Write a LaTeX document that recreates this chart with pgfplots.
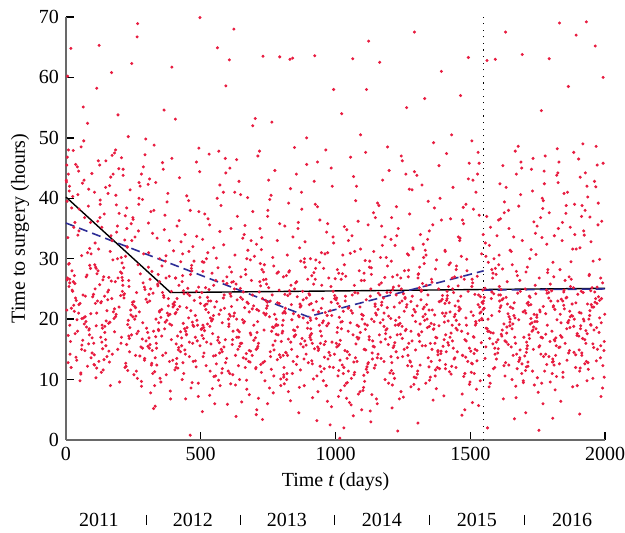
\documentclass[border=0pt]{standalone}
\usepackage{fontspec}
\setmainfont{Liberation Serif}
\usepackage{pgfplots}
\pgfplotsset{compat=1.18}
\definecolor{dotred}{RGB}{232,28,64}
\definecolor{dashblue}{RGB}{45,45,150}
\definecolor{axgray}{RGB}{105,105,105}
\begin{document}
\begin{tikzpicture}
\begin{axis}[
  scale only axis, width=269.5pt, height=211.5pt,
  xmin=0, xmax=2000, ymin=0, ymax=70,
  axis lines*=left,
  axis line style={axgray, line width=0.8pt},
  tick align=inside, major tick length=4pt,
  tick style={black, line width=0.7pt},
  xtick={0,500,1000,1500,2000}, ytick={0,10,...,70},
  /pgf/number format/assume math mode=true,
  /pgf/number format/1000 sep={},
  xlabel={Time \textit{t} (days)}, ylabel={Time to surgery (hours)},
  xlabel style={yshift=1pt}, ylabel style={yshift=-2pt},
  clip=false,
  dots/.style={color=dotred, only marks, mark=*, mark size=0.55pt, mark options={draw=none, fill=dotred}},
]
\addplot[dots] coordinates {
(47,44.5)(12,41.2)(83,38.7)(5,46.8)(66,49.5)(29,35.2)(91,28.4)(38,23.1)(74,19.6)(20,21.8)(58,30.5)(2,42.7)(87,17.4)(33,25.9)(69,36.8)(15,14.2)(52,22.6)(96,44.1)(41,19.9)(8,12.8)(78,27.3)(25,40.3)(62,16.5)(44,33.9)(99,23.7)(18,64.8)(55,10.9)(71,20.4)(36,45.6)(10,29.1)(85,18.2)(49,38.2)(23,24.8)(93,13.6)(64,55.1)(31,21.3)(6,60.2)(80,52.4)(27,47.9)(59,15.7)(14,26.6)(88,31.7)(1,43.0)(3,45.5)(4,39.5)(9,48.0)(13,42.0)
(147,41.8)(112,18.9)(183,26.2)(105,14.1)(166,43.5)(129,22.7)(191,35.4)(138,11.6)(174,29.8)(120,46.2)(158,19.3)(102,24.1)(187,38.9)(133,16.2)(169,60.8)(115,27.5)(152,21.4)(196,44.9)(141,13.3)(108,32.6)(178,20.1)(125,25.7)(162,42.1)(144,17.8)(199,9.6)(118,36.2)(155,23.2)(171,47.1)(136,15.1)(110,28.6)(185,40.5)(149,19.7)(123,65.3)(193,53.8)(164,31.2)(131,22.9)(106,12.4)(180,47.5)(127,39.7)(159,26.9)(114,58.2)
(247,22.4)(212,43.8)(283,16.7)(205,30.2)(266,68.9)(229,19.1)(291,25.3)(238,41.4)(274,13.9)(220,37.1)(258,21.9)(202,27.8)(287,45.2)(233,17.2)(269,34.6)(215,23.5)(252,10.8)(296,49.8)(241,20.7)(208,29.3)(278,15.4)(225,38.4)(262,24.4)(244,62.3)(299,18.5)(218,33.1)(255,22.1)(271,42.6)(236,14.6)(210,26.4)(285,19.4)(249,36.5)(223,12.2)(293,24.9)(264,66.7)(231,50.2)(206,46.7)(280,8.9)(227,31.9)
(347,21.2)(312,15.8)(383,27.1)(305,42.3)(366,18.4)(329,11.3)(391,24.6)(338,33.4)(374,19.8)(320,14.8)(358,45.9)(302,22.8)(387,8.1)(333,17.1)(369,29.6)(315,37.8)(352,20.3)(396,13.2)(341,25.5)(308,16.9)(378,40.8)(325,5.2)(362,23.9)(344,18.1)(399,31.3)(318,12.7)(355,21.6)(371,26.8)(336,15.2)(310,43.2)(385,19.2)(349,10.2)(323,24.3)(393,61.7)(364,54.6)(331,5.6)(306,35.9)(380,22.2)
(447,17.5)(412,23.4)(483,12.1)(405,20.9)(466,28.9)(429,15.6)(491,9.4)(438,24.2)(474,18.8)(420,36.3)(458,13.8)(402,22.3)(487,16.4)(433,30.8)(469,19.5)(415,11.9)(452,25.1)(496,44.4)(441,14.9)(408,21.1)(461,0.8)(425,17.9)(462,27.4)(444,6.8)(499,22.6)(418,15.3)(455,39.6)(471,19.0)(436,24.7)(410,12.6)(485,33.7)(449,18.6)(497,69.9)(493,48.3)(464,8.6)(431,26.2)(406,53.1)(480,13.1)
(547,20.6)(512,14.4)(583,26.3)(505,17.3)(566,9.9)(529,23.0)(591,46.6)(538,15.9)(574,21.5)(520,12.3)(558,30.1)(502,18.3)(587,24.0)(533,7.4)(569,16.1)(515,37.4)(552,22.0)(596,13.5)(541,19.8)(508,27.9)(578,11.1)(525,23.6)(562,64.9)(544,17.6)(599,5.9)(518,25.2)(555,14.0)(571,42.2)(536,20.2)(510,16.8)(585,32.3)(549,10.5)(523,22.5)(593,58.6)(564,28.5)(531,47.3)(506,4.7)(580,19.4)
(647,16.0)(612,23.8)(683,12.9)(605,19.2)(666,28.2)(629,9.1)(691,21.7)(638,15.0)(674,40.1)(620,18.0)(658,24.5)(602,11.4)(687,33.0)(633,20.0)(669,14.3)(615,26.1)(652,6.3)(696,22.2)(641,17.0)(608,45.0)(678,13.0)(625,25.0)(662,19.6)(644,10.0)(699,30.4)(618,16.6)(655,23.3)(671,8.4)(636,37.0)(610,20.5)(685,14.7)(649,27.0)(623,68.0)(693,52.0)(664,35.5)(631,3.9)(606,62.9)(680,21.2)
(747,22.8)(712,15.5)(783,27.6)(705,12.0)(766,18.7)(729,3.4)(791,24.8)(738,9.8)(774,20.8)(720,35.0)(758,14.6)(702,53.2)(787,17.4)(733,26.5)(769,7.8)(715,21.4)(752,43.0)(796,13.7)(741,23.1)(708,5.0)(778,18.9)(725,31.5)(762,11.7)(744,25.8)(799,16.3)(718,47.8)(755,20.4)(771,10.6)(736,29.0)(710,15.2)(785,22.7)(749,38.0)(723,12.5)(793,63.4)(764,52.6)(731,63.5)(706,4.2)(780,19.1)
(847,17.2)(812,24.1)(883,13.4)(805,21.0)(866,8.7)(829,28.0)(891,15.7)(838,19.9)(874,41.0)(820,11.0)(858,23.7)(802,17.7)(887,32.8)(833,6.5)(869,22.0)(815,14.5)(852,26.0)(896,18.5)(841,63.2)(808,10.4)(878,24.6)(825,16.7)(862,36.0)(844,20.9)(899,12.8)(818,27.2)(855,44.0)(871,15.9)(836,22.4)(810,9.3)(885,30.0)(849,18.1)(823,23.9)(893,50.0)(864,4.5)(831,63.0)(806,14.0)(880,20.2)
(947,21.8)(912,13.1)(983,25.4)(905,17.0)(966,9.0)(929,22.9)(991,33.6)(938,15.1)(974,19.3)(920,27.7)(958,11.8)(902,24.2)(987,16.2)(933,46.0)(969,20.6)(915,7.0)(952,23.4)(996,14.2)(941,29.4)(908,18.4)(978,12.1)(925,39.0)(962,21.1)(944,16.0)(999,26.7)(918,10.1)(955,19.7)(971,31.0)(936,14.8)(910,22.6)(985,5.5)(949,25.6)(923,63.6)(993,58.0)(964,48.0)(931,3.2)(906,17.3)(980,2.5)
(1047,18.0)(1012,11.5)(1083,24.3)(1005,15.4)(1016,0.3)(1029,21.3)(1091,8.0)(1038,27.1)(1074,13.6)(1020,19.5)(1058,5.8)(1002,23.2)(1087,16.9)(1033,35.3)(1069,10.8)(1015,22.1)(1052,14.1)(1096,26.4)(1041,6.9)(1008,18.6)(1078,42.0)(1025,12.4)(1062,24.0)(1044,9.5)(1099,20.0)(1018,16.5)(1055,30.9)(1071,11.2)(1036,23.0)(1010,15.6)(1085,7.6)(1049,21.9)(1023,54.0)(1093,50.5)(1064,63.1)(1031,2.0)(1066,4.0)(1080,19.0)
(1147,22.5)(1112,14.9)(1183,26.9)(1105,10.7)(1166,19.4)(1129,4.8)(1191,24.4)(1138,16.4)(1174,32.2)(1120,12.6)(1158,21.6)(1102,8.2)(1187,18.2)(1133,28.5)(1169,13.5)(1115,58.0)(1152,20.7)(1196,15.8)(1141,37.6)(1108,9.7)(1178,23.5)(1125,17.1)(1162,25.7)(1144,11.9)(1199,44.6)(1118,19.0)(1155,6.0)(1171,22.3)(1136,14.4)(1110,29.7)(1185,16.7)(1149,21.0)(1123,66.0)(1193,48.5)(1164,62.5)(1131,3.0)(1106,27.6)(1180,13.0)
(1247,18.8)(1212,24.9)(1283,12.2)(1205,20.1)(1266,15.3)(1229,27.3)(1291,9.2)(1238,22.7)(1274,41.5)(1220,16.1)(1258,23.6)(1202,11.1)(1287,31.8)(1233,19.1)(1269,14.0)(1215,25.3)(1252,7.1)(1296,21.2)(1241,17.5)(1208,36.8)(1278,12.9)(1225,24.0)(1262,18.3)(1244,47.0)(1299,10.3)(1218,22.0)(1255,15.0)(1271,28.1)(1236,20.3)(1210,5.3)(1285,23.8)(1249,13.8)(1223,19.8)(1293,67.5)(1264,55.0)(1231,1.5)(1206,33.2)(1280,8.8)
(1347,21.5)(1312,16.3)(1383,25.0)(1305,11.4)(1366,19.1)(1329,29.2)(1391,14.3)(1338,22.4)(1374,8.5)(1320,17.9)(1358,26.1)(1302,43.8)(1387,13.2)(1333,20.8)(1369,16.0)(1315,34.0)(1352,10.4)(1396,23.3)(1341,18.6)(1308,27.5)(1378,12.0)(1325,21.7)(1362,6.6)(1344,39.5)(1399,15.5)(1318,24.6)(1355,19.3)(1371,11.6)(1336,30.6)(1310,17.3)(1385,22.9)(1349,9.9)(1323,25.9)(1393,61.0)(1364,49.2)(1331,56.5)(1306,2.8)(1380,14.6)
(1447,18.5)(1412,23.1)(1483,13.7)(1405,20.5)(1466,27.0)(1429,10.9)(1491,17.6)(1438,24.4)(1474,38.5)(1420,15.7)(1458,21.4)(1402,7.3)(1487,29.9)(1433,19.0)(1469,4.1)(1415,23.9)(1452,14.6)(1496,45.8)(1441,20.4)(1408,12.5)(1478,26.6)(1425,17.0)(1462,33.4)(1444,22.2)(1499,9.6)(1418,19.7)(1455,25.5)(1471,14.0)(1436,41.8)(1410,21.0)(1485,16.4)(1449,28.8)(1423,11.3)(1493,63.3)(1464,57.0)(1431,50.5)(1406,31.4)(1480,5.0)
(1547,22.6)(1512,17.1)(1583,26.8)(1505,12.7)(1566,20.0)(1529,47.6)(1591,15.2)(1538,23.7)(1574,9.4)(1520,19.6)(1558,30.4)(1502,14.7)(1587,24.2)(1533,37.2)(1569,18.0)(1515,11.0)(1552,21.8)(1596,27.4)(1541,16.1)(1508,6.2)(1578,23.4)(1525,13.1)(1562,62.8)(1544,19.9)(1599,33.8)(1518,15.0)(1555,25.1)(1571,10.6)(1536,21.0)(1510,43.0)(1585,17.7)(1549,23.0)(1523,8.4)(1593,63.0)(1564,2.0)(1531,5.7)(1506,49.5)(1580,28.2)
(1647,18.9)(1612,24.0)(1683,13.3)(1605,36.4)(1666,20.2)(1629,16.4)(1691,45.0)(1638,22.5)(1674,11.8)(1620,28.3)(1658,19.2)(1602,14.4)(1687,40.6)(1633,23.6)(1669,8.9)(1615,17.5)(1652,31.2)(1696,21.2)(1641,15.8)(1608,25.4)(1678,48.6)(1625,12.3)(1662,20.6)(1644,35.0)(1699,17.0)(1618,23.2)(1655,10.0)(1671,27.9)(1636,18.7)(1610,42.4)(1685,14.9)(1649,22.0)(1623,6.8)(1693,63.8)(1664,3.5)(1631,67.5)(1606,29.0)(1680,38.7)
(1747,20.7)(1712,15.6)(1783,24.8)(1705,11.5)(1766,33.5)(1729,19.4)(1791,23.5)(1738,9.1)(1774,44.5)(1720,16.8)(1758,21.5)(1702,13.9)(1787,27.7)(1733,18.2)(1769,38.3)(1715,22.8)(1752,7.9)(1796,16.3)(1741,25.6)(1708,12.1)(1778,47.0)(1725,20.1)(1762,14.2)(1744,30.7)(1799,23.0)(1718,17.4)(1755,1.6)(1771,22.1)(1736,36.1)(1710,15.1)(1785,24.3)(1749,10.3)(1723,19.2)(1793,63.1)(1764,54.5)(1731,41.2)(1706,4.5)(1780,20.9)
(1847,22.3)(1812,16.6)(1883,25.2)(1805,12.9)(1866,19.8)(1829,46.0)(1891,14.1)(1838,23.3)(1874,29.5)(1820,10.5)(1858,18.4)(1802,24.7)(1887,39.0)(1833,15.4)(1869,21.3)(1815,8.3)(1852,26.4)(1896,17.3)(1841,33.0)(1808,13.0)(1878,22.5)(1825,44.2)(1862,19.5)(1844,11.2)(1899,24.1)(1818,16.9)(1855,37.5)(1871,20.4)(1836,6.4)(1810,27.0)(1885,14.5)(1849,21.7)(1823,48.2)(1893,67.0)(1864,58.5)(1831,69.0)(1806,3.6)(1880,31.6)
(1947,19.1)(1912,24.6)(1983,13.6)(1905,21.1)(1966,41.9)(1929,16.0)(1991,26.0)(1938,11.7)(1974,35.6)(1920,20.0)(1958,15.3)(1902,46.5)(1987,23.4)(1933,9.8)(1969,18.6)(1915,38.8)(1952,22.0)(1996,14.8)(1941,27.2)(1908,43.5)(1978,17.8)(1925,12.6)(1962,24.5)(1944,36.9)(1999,20.8)(1918,49.0)(1955,15.9)(1971,25.3)(1936,40.2)(1910,18.9)(1985,7.2)(1949,22.4)(1923,33.9)(1993,60.0)(1964,65.2)(1931,69.2)(1906,4.3)(1980,29.9)
};
\addplot[dots] coordinates {
(63,24.0)(17,16.3)(92,20.9)(40,13.2)(4,26.5)(76,18.7)(29,22.3)(55,11.1)(11,25.4)(84,15.9)(47,21.0)(68,19.2)(22,28.0)(97,14.4)(35,23.5)(8,17.3)(59,20.1)(80,12.2)(14,26.0)(43,18.0)
(163,19.5)(117,23.0)(192,15.0)(140,27.0)(104,12.5)(176,21.2)(129,17.0)(155,24.5)(111,10.3)(184,20.4)(147,16.6)(168,26.3)(122,13.0)(197,22.0)(135,18.5)(108,25.0)(159,14.7)(180,21.7)(114,11.9)(143,23.8)(171,33.0)(126,36.8)
(263,17.6)(217,24.2)(292,13.5)(240,21.5)(204,16.0)(276,27.5)(229,11.5)(255,20.0)(211,25.6)(284,15.2)(247,22.8)(268,18.0)(222,12.7)(297,23.3)(235,16.8)(208,26.9)(259,20.5)(280,9.7)(214,24.0)(243,17.4)(271,40.0)(226,35.0)
(363,23.6)(317,12.4)(392,19.0)(340,25.8)(304,15.5)(376,21.0)(329,9.0)(355,17.2)(311,23.0)(384,13.0)(347,26.2)(368,19.5)(322,11.0)(397,22.5)(335,16.0)(308,24.1)(359,14.0)(380,20.6)(314,7.8)(343,18.3)(371,30.5)(326,38.0)
(463,21.4)(417,14.9)(492,25.3)(440,18.4)(404,11.6)(476,23.1)(429,16.9)(455,20.2)(411,13.5)(484,24.6)(447,17.4)(468,9.5)(422,22.1)(497,15.6)(435,19.3)(408,12.0)(459,23.9)(480,17.0)(414,21.6)(443,14.2)(471,32.0)(426,29.5)
(563,16.5)(517,22.4)(592,12.8)(540,19.7)(504,24.4)(576,15.0)(529,21.1)(555,10.6)(511,18.6)(584,23.5)(547,13.9)(568,20.8)(522,16.2)(597,25.9)(535,11.4)(508,19.0)(559,22.9)(580,14.6)(514,18.1)(543,8.5)(571,34.5)(526,31.0)
(663,21.9)(617,15.8)(692,24.0)(640,12.3)(604,18.8)(676,22.6)(629,14.0)(655,19.9)(611,9.3)(684,17.7)(647,25.1)(668,13.4)(622,20.5)(697,16.5)(635,23.2)(608,11.0)(659,19.4)(680,14.8)(614,22.1)(643,17.9)(671,30.0)(626,41.0)
(763,18.0)(717,24.5)(792,14.1)(740,20.7)(704,11.8)(776,16.4)(729,23.4)(755,8.6)(711,19.6)(784,13.3)(747,22.2)(768,15.7)(722,25.5)(797,10.1)(735,18.2)(708,21.6)(759,13.8)(780,17.5)(714,6.9)(743,20.9)(771,28.8)(726,33.5)
(863,20.6)(817,14.4)(892,23.5)(840,11.0)(804,18.0)(876,16.8)(829,24.7)(855,12.5)(811,21.3)(884,9.0)(847,17.1)(868,22.5)(822,14.0)(897,19.4)(835,25.6)(808,10.8)(859,18.7)(880,15.4)(814,21.0)(843,13.0)(871,29.6)(826,39.2)
(963,16.3)(917,21.5)(992,12.0)(940,19.0)(904,24.0)(976,14.5)(929,20.1)(955,9.8)(911,17.6)(984,22.8)(947,11.3)(968,18.9)(922,15.1)(997,23.9)(935,8.0)(908,19.8)(959,13.7)(980,21.4)(914,16.0)(943,12.2)(971,35.8)(926,28.4)
(1063,21.0)(1017,13.2)(1092,17.8)(1040,9.4)(1004,23.5)(1076,15.9)(1029,11.0)(1055,19.4)(1011,7.2)(1084,16.7)(1047,21.8)(1068,12.9)(1022,18.4)(1097,5.0)(1035,14.8)(1008,22.6)(1059,10.2)(1080,17.0)(1014,20.3)(1043,13.5)(1071,31.2)(1026,27.5)
(1163,17.4)(1117,12.1)(1192,21.9)(1140,15.5)(1104,8.7)(1176,19.9)(1129,23.8)(1155,13.6)(1111,18.3)(1184,10.0)(1147,22.1)(1168,16.2)(1122,12.8)(1197,20.5)(1135,7.5)(1108,15.0)(1159,24.3)(1180,18.8)(1114,11.7)(1143,19.6)(1171,35.4)(1126,28.6)
(1263,22.0)(1217,15.6)(1292,10.4)(1240,19.3)(1204,24.4)(1276,13.1)(1229,17.4)(1255,21.3)(1211,9.1)(1284,16.4)(1247,23.0)(1268,12.3)(1222,19.0)(1297,14.9)(1235,25.5)(1208,11.5)(1259,18.1)(1280,22.9)(1214,15.3)(1243,8.0)(1271,30.6)(1226,38.6)
(1363,18.3)(1317,23.2)(1392,14.7)(1340,20.0)(1304,10.9)(1376,16.9)(1329,22.0)(1355,13.0)(1311,25.2)(1384,18.9)(1347,12.1)(1368,20.7)(1322,15.6)(1397,23.9)(1335,9.4)(1308,17.5)(1359,21.5)(1380,14.1)(1314,19.2)(1343,24.0)(1371,28.3)(1326,32.4)
(1463,21.7)(1417,16.1)(1492,24.6)(1440,13.4)(1404,19.5)(1476,10.5)(1429,17.7)(1455,23.0)(1411,14.6)(1484,20.2)(1447,12.0)(1468,18.0)(1422,22.7)(1497,15.2)(1435,25.0)(1408,11.8)(1459,19.1)(1480,16.6)(1414,23.4)(1443,13.6)(1471,36.4)(1426,29.3)
(1563,18.4)(1517,24.1)(1592,14.2)(1540,21.2)(1504,11.2)(1576,17.8)(1529,22.4)(1555,13.5)(1511,20.6)(1584,15.9)(1547,24.8)(1568,10.7)(1522,19.3)(1597,16.2)(1535,22.0)(1508,12.6)(1559,18.5)(1580,24.5)(1514,14.3)(1543,20.1)(1571,32.2)(1526,27.1)
(1663,22.7)(1617,17.2)(1692,12.6)(1640,20.9)(1604,15.1)(1676,24.3)(1629,10.6)(1655,18.4)(1611,21.9)(1684,13.6)(1647,19.5)(1668,16.0)(1622,23.4)(1697,9.5)(1635,17.7)(1608,21.3)(1659,14.0)(1680,19.9)(1614,24.9)(1643,12.4)(1671,44.0)(1626,37.6)
(1763,17.0)(1717,22.3)(1792,13.8)(1740,19.6)(1704,25.0)(1776,11.4)(1729,18.0)(1755,15.4)(1711,22.6)(1784,12.5)(1747,20.3)(1768,16.9)(1722,23.6)(1797,9.6)(1735,18.7)(1708,14.5)(1759,21.2)(1780,17.5)(1714,12.9)(1743,24.2)(1771,39.6)(1726,31.5)
(1863,19.4)(1817,14.0)(1892,22.7)(1840,17.0)(1804,11.0)(1876,20.6)(1829,15.3)(1855,23.5)(1811,12.4)(1884,18.8)(1847,24.5)(1868,14.8)(1822,19.9)(1897,9.0)(1835,17.3)(1808,22.0)(1859,13.2)(1880,20.5)(1814,16.4)(1843,23.0)(1871,35.2)(1826,42.6)
(1963,22.8)(1917,16.8)(1992,12.3)(1940,20.0)(1904,14.9)(1976,23.7)(1929,18.1)(1955,10.2)(1911,21.0)(1984,15.6)(1947,24.7)(1968,13.1)(1922,19.7)(1997,16.3)(1935,22.5)(1908,11.9)(1959,18.2)(1980,23.1)(1914,14.4)(1943,20.6)(1971,45.5)(1926,38.0)
};
\addplot[dots] coordinates {
(3,21.5)(58,15.0)(31,27.2)(86,18.4)(19,12.0)(72,23.8)(44,40.6)(97,16.9)(9,44.0)(65,20.2)(37,13.7)(80,31.0)(25,24.6)(52,9.8)(14,19.0)(91,36.0)(48,22.4)(70,14.8)(6,26.8)(34,17.6)(61,42.5)(88,28.9)
(103,16.0)(158,24.8)(131,11.2)(186,20.8)(119,28.0)(172,14.2)(144,18.8)(197,37.5)(109,22.6)(165,9.0)(137,26.5)(180,17.9)(125,45.5)(152,13.8)(114,21.0)(191,30.0)(148,15.6)(170,23.4)(106,41.0)(134,19.0)(161,12.9)(188,34.4)
(203,23.9)(258,14.0)(231,19.8)(286,26.0)(219,12.0)(272,21.2)(244,33.0)(297,16.4)(209,24.6)(265,10.2)(237,18.6)(280,44.0)(225,15.8)(252,22.9)(214,28.5)(291,13.2)(248,20.4)(270,39.0)(206,17.0)(234,25.4)(261,11.4)(288,30.8)
(303,17.8)(358,24.4)(331,13.6)(386,20.8)(319,27.9)(372,10.8)(344,19.4)(397,22.0)(309,15.2)(365,34.8)(337,12.4)(380,23.4)(325,18.0)(352,9.6)(314,25.0)(391,16.6)(348,21.4)(370,14.4)(306,28.6)(334,20.0)(361,44.8)(388,6.8)
(403,22.8)(458,16.2)(431,10.0)(486,19.8)(419,25.6)(472,13.0)(444,18.0)(497,23.6)(409,15.9)(465,28.4)(437,11.0)(480,20.6)(425,14.6)(452,24.2)(414,17.2)(491,7.2)(448,21.9)(470,16.0)(406,26.8)(434,12.8)(461,38.0)(488,19.0)
(503,18.4)(558,12.6)(531,24.9)(586,15.4)(519,21.6)(572,9.0)(544,20.0)(597,27.0)(509,13.8)(565,17.0)(537,23.0)(580,11.8)(525,19.2)(552,6.0)(514,22.2)(591,16.6)(548,25.6)(570,14.4)(506,29.5)(534,18.8)(561,40.0)(588,21.8)
(603,20.0)(658,13.6)(631,25.8)(686,17.4)(619,10.8)(672,22.8)(644,15.5)(697,19.0)(609,24.2)(665,12.0)(637,18.2)(680,7.5)(625,21.0)(652,16.0)(614,27.8)(691,14.0)(648,23.6)(670,9.9)(606,20.8)(634,17.0)(661,34.0)(688,26.4)
(703,16.9)(758,23.0)(731,12.8)(786,19.0)(719,26.2)(772,14.9)(744,21.8)(797,9.0)(709,17.8)(765,24.0)(737,13.0)(780,20.0)(725,11.2)(752,25.2)(714,16.0)(791,22.6)(748,6.0)(770,18.6)(706,15.0)(734,21.0)(761,40.5)(788,27.8)
(803,19.0)(858,13.8)(831,24.2)(886,16.4)(819,10.0)(872,22.2)(844,18.2)(897,26.6)(809,12.0)(865,20.4)(837,15.0)(880,23.2)(825,8.0)(852,17.4)(814,21.8)(891,14.2)(848,25.0)(870,11.6)(806,19.8)(834,16.2)(861,35.0)(888,28.6)
(903,22.4)(958,15.8)(931,10.6)(986,20.6)(919,25.8)(972,13.4)(944,18.0)(997,23.4)(909,16.6)(965,9.0)(937,21.2)(980,14.0)(925,26.6)(952,19.4)(914,12.6)(991,24.6)(948,17.2)(970,6.4)(906,20.2)(934,15.4)(961,30.8)(988,42.0)
(1003,16.0)(1058,21.4)(1031,12.0)(1086,18.8)(1019,8.2)(1072,24.4)(1044,14.6)(1097,20.8)(1009,10.6)(1065,17.4)(1037,23.8)(1080,13.0)(1025,19.6)(1052,6.2)(1014,15.8)(1091,22.0)(1048,11.4)(1070,25.6)(1006,17.8)(1034,9.0)(1061,33.8)(1088,28.0)
(1103,20.6)(1158,14.2)(1131,25.0)(1186,17.6)(1119,11.2)(1172,22.8)(1144,15.4)(1197,9.4)(1109,19.2)(1165,24.0)(1137,13.4)(1180,21.0)(1125,16.6)(1152,6.8)(1114,23.2)(1191,18.4)(1148,12.4)(1170,26.0)(1106,15.0)(1134,20.0)(1161,38.8)(1188,30.2)
(1203,17.0)(1258,23.4)(1231,13.6)(1286,20.6)(1219,10.2)(1272,16.0)(1244,25.0)(1297,19.6)(1209,12.8)(1265,22.4)(1237,6.8)(1280,18.0)(1225,14.6)(1252,24.2)(1214,11.0)(1291,21.6)(1248,16.8)(1270,27.0)(1206,13.8)(1234,19.0)(1261,44.0)(1288,31.6)
(1303,22.2)(1358,15.0)(1331,19.8)(1386,11.8)(1319,24.8)(1372,17.0)(1344,13.6)(1397,21.0)(1309,8.4)(1365,18.4)(1337,25.6)(1380,14.8)(1325,20.4)(1352,16.0)(1314,12.4)(1391,23.0)(1348,18.8)(1370,10.6)(1306,26.8)(1334,15.6)(1361,35.6)(1388,40.0)
(1403,16.6)(1458,22.0)(1431,12.2)(1486,19.0)(1419,25.4)(1472,14.0)(1444,20.8)(1497,9.2)(1409,17.4)(1465,23.8)(1437,15.2)(1480,11.0)(1425,21.2)(1452,18.2)(1414,24.6)(1491,13.0)(1448,19.8)(1470,7.6)(1406,22.6)(1434,16.4)(1461,33.0)(1488,28.0)
(1503,21.2)(1558,15.4)(1531,24.0)(1586,11.8)(1519,19.0)(1572,16.8)(1544,22.8)(1597,13.4)(1509,26.0)(1565,18.0)(1537,9.8)(1580,20.6)(1525,14.8)(1552,23.6)(1514,17.0)(1591,12.0)(1548,21.6)(1570,8.8)(1506,25.4)(1534,19.8)(1561,37.0)(1588,30.0)
(1603,16.6)(1658,21.8)(1631,12.8)(1686,24.6)(1619,18.2)(1672,14.2)(1644,20.4)(1697,9.8)(1609,23.0)(1665,17.0)(1637,26.2)(1680,13.0)(1625,19.2)(1652,15.4)(1614,22.2)(1691,11.0)(1648,20.0)(1670,7.0)(1606,24.0)(1634,16.2)(1661,33.6)(1688,46.0)
(1703,21.4)(1758,15.6)(1731,11.4)(1786,19.0)(1719,23.8)(1772,13.8)(1744,18.4)(1797,25.8)(1709,16.2)(1765,9.4)(1737,20.8)(1780,14.2)(1725,22.4)(1752,17.8)(1714,12.2)(1791,24.4)(1748,19.6)(1770,6.0)(1706,21.0)(1734,15.0)(1761,36.8)(1788,28.2)
(1803,18.0)(1858,23.6)(1831,12.6)(1886,20.0)(1819,15.6)(1872,25.4)(1844,10.4)(1897,17.6)(1809,22.2)(1865,14.4)(1837,19.4)(1880,8.8)(1825,23.0)(1852,16.0)(1814,21.6)(1891,12.0)(1848,24.8)(1870,18.6)(1806,13.4)(1834,20.8)(1861,41.0)(1888,34.0)
(1903,17.2)(1958,22.0)(1931,13.0)(1986,19.4)(1919,24.4)(1972,15.0)(1944,21.4)(1997,10.4)(1909,18.4)(1965,23.4)(1937,12.8)(1980,20.2)(1925,16.6)(1952,25.2)(1914,14.0)(1991,8.6)(1948,19.0)(1970,22.6)(1906,11.4)(1934,17.6)(1961,42.8)(1988,36.2)
};
\addplot[dots] coordinates {
(7,33.5)(42,45.2)(75,27.0)(21,38.4)(93,30.8)(56,48.5)(33,36.0)(84,41.5)(12,29.2)(67,43.0)(48,34.6)(27,26.2)
(107,29.0)(142,37.4)(175,44.0)(121,31.6)(193,26.8)(156,40.8)(133,35.2)(184,48.0)(112,28.4)(167,33.8)(148,46.2)(127,39.0)
(207,27.6)(242,35.8)(275,42.0)(221,30.4)(293,47.2)(256,33.6)(233,26.4)(284,39.8)(212,44.8)(267,29.0)(248,36.8)(227,32.0)
(307,31.0)(342,27.4)(375,39.4)(321,34.2)(393,46.6)(356,28.8)(333,42.6)(384,33.0)(312,26.6)(367,37.2)(348,30.0)(327,48.8)
(407,26.8)(442,34.0)(475,29.6)(421,43.4)(493,37.8)(456,31.2)(433,27.2)(484,46.0)(412,35.4)(467,28.0)(448,40.4)(427,32.8)
(507,33.2)(542,27.6)(575,38.8)(521,30.0)(593,44.2)(556,26.4)(533,35.6)(584,41.0)(512,29.4)(567,47.8)(548,31.8)(527,36.6)
(607,28.6)(642,42.8)(675,31.4)(621,26.2)(693,37.8)(656,33.4)(633,46.4)(684,29.8)(612,35.0)(667,27.4)(648,40.6)(627,30.6)
(707,32.4)(742,26.6)(775,44.6)(721,29.2)(793,35.8)(756,39.8)(733,27.8)(784,33.0)(712,47.0)(767,30.2)(748,37.0)(727,28.2)
(807,27.0)(842,33.6)(875,38.2)(821,30.6)(893,45.6)(856,26.2)(833,41.6)(884,29.4)(812,35.4)(867,31.8)(848,48.4)(827,27.8)
(907,30.0)(942,36.4)(975,26.8)(921,42.8)(993,32.6)(956,28.4)(933,38.6)(984,45.0)(912,27.2)(967,34.4)(948,31.0)(927,29.8)
(1007,28.2)(1042,34.8)(1075,39.6)(1021,26.6)(1093,31.6)(1056,46.8)(1033,29.0)(1084,36.2)(1012,27.6)(1067,43.6)(1048,33.0)(1027,30.6)
(1107,26.4)(1142,31.2)(1175,43.0)(1121,35.6)(1193,28.8)(1156,39.2)(1133,27.4)(1184,33.6)(1112,47.6)(1167,30.2)(1148,36.8)(1127,29.6)
(1207,29.6)(1242,26.8)(1275,37.4)(1221,32.2)(1293,44.4)(1256,28.0)(1233,35.0)(1284,41.4)(1212,27.0)(1267,30.8)(1248,46.2)(1227,33.8)
(1307,27.4)(1342,33.2)(1375,29.8)(1321,42.2)(1393,36.4)(1356,26.6)(1333,31.4)(1384,45.4)(1312,28.6)(1367,38.4)(1348,34.6)(1327,30.2)
(1407,31.2)(1442,27.0)(1475,35.8)(1421,29.0)(1493,43.2)(1456,33.6)(1433,26.8)(1484,39.0)(1412,47.4)(1467,30.4)(1448,28.2)(1427,36.6)
(1507,26.6)(1542,30.8)(1575,35.2)(1521,41.0)(1593,28.4)(1556,32.6)(1533,45.8)(1584,27.6)(1512,38.2)(1567,29.4)(1548,34.0)(1527,44.0)
(1607,30.6)(1642,38.0)(1675,27.2)(1621,45.4)(1693,33.0)(1656,29.0)(1633,41.8)(1684,26.4)(1612,36.6)(1667,47.8)(1648,31.4)(1627,39.4)
(1707,27.8)(1742,34.2)(1775,42.4)(1721,30.0)(1793,37.6)(1756,26.8)(1733,46.6)(1784,32.4)(1712,28.6)(1767,40.0)(1748,35.4)(1727,44.8)
(1807,29.4)(1842,36.0)(1875,26.6)(1821,43.8)(1893,31.6)(1856,38.8)(1833,28.2)(1884,47.6)(1812,33.8)(1867,27.0)(1848,40.8)(1827,35.0)
(1907,31.8)(1942,27.4)(1975,39.2)(1921,34.6)(1993,45.8)(1956,29.6)(1933,42.0)(1984,26.8)(1913,37.0)(1967,48.6)(1948,32.8)(1927,44.2)
};
\addplot[black, line width=0.7pt] coordinates {(0,40.2) (388,24.4) (2000,25.1)};
\addplot[dashblue, line width=0.8pt, dash pattern=on 4.5pt off 2.5pt] coordinates {(0,35.9) (898,20.4) (1550,28.0)};
\addplot[dashblue, line width=0.8pt, dash pattern=on 4.5pt off 2.5pt] coordinates {(1550,24.8) (2000,25.0)};
\addplot[black, line width=0.6pt, dash pattern=on 0.6pt off 2.7pt] coordinates {(1550,0) (1550,70)};
\node at (axis cs:122,0) [yshift=-40pt] {2011};
\node at (axis cs:471,0) [yshift=-40pt] {2012};
\node at (axis cs:820,0) [yshift=-40pt] {2013};
\node at (axis cs:1172,0) [yshift=-40pt] {2014};
\node at (axis cs:1525,0) [yshift=-40pt] {2015};
\node at (axis cs:1878,0) [yshift=-40pt] {2016};
\draw[black, line width=0.5pt] (axis cs:297,0) ++(0,-37.5pt) -- ++(0,-5pt);
\draw[black, line width=0.5pt] (axis cs:648,0) ++(0,-37.5pt) -- ++(0,-5pt);
\draw[black, line width=0.5pt] (axis cs:997,0) ++(0,-37.5pt) -- ++(0,-5pt);
\draw[black, line width=0.5pt] (axis cs:1347,0) ++(0,-37.5pt) -- ++(0,-5pt);
\draw[black, line width=0.5pt] (axis cs:1700,0) ++(0,-37.5pt) -- ++(0,-5pt);
\end{axis}
\pgfresetboundingbox
\path[use as bounding box] (-33pt,-46.5pt) rectangle (279.5pt,220pt);
\end{tikzpicture}
\end{document}
